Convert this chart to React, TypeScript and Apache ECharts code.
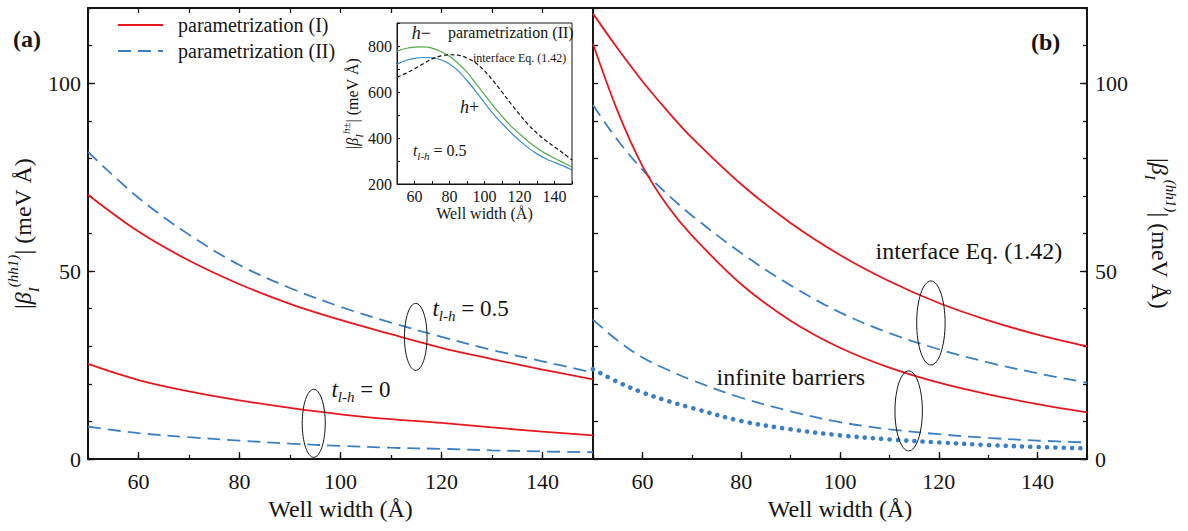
import React, { useEffect, useRef } from 'react';
import * as echarts from 'echarts';

const FONT = 'Liberation Serif, Times New Roman, serif';
const INK = '#151515';
const RED = '#e8161e';
const BLUE = '#3a7fc3';
const GREEN = '#55ad47';
const IBLUE = '#3d8dd2';

// ---------- Panel (a) ----------
const widthsA = [50, 60, 70, 80, 90, 100, 110, 120, 130, 140, 150];
const aParamI_t05 = [70.3, 60.5, 52.8, 46.5, 41.3, 37.0, 33.2, 29.6, 26.6, 23.8, 21.2];
const aParamII_t05 = [81.7, 69.5, 59.7, 51.6, 45.5, 40.5, 36.3, 32.5, 29.0, 26.0, 23.0];
const aParamI_t0 = [25.3, 21.0, 18.0, 15.6, 13.6, 11.9, 10.6, 9.6, 8.4, 7.3, 6.3];
const aParamII_t0 = [8.6, 6.9, 5.8, 4.9, 4.1, 3.5, 3.0, 2.7, 2.3, 2.0, 1.8];

// ---------- Panel (b) ----------
const widthsB = [50, 55, 60, 65, 70, 80, 90, 100, 110, 120, 130, 140, 150];
const bInterfaceI = [118.5, 109.2, 100.5, 92.7, 85.5, 73.1, 62.8, 54.3, 47.3, 41.5, 36.9, 33.1, 30.0];
const bInterfaceII = [94.2, 84.8, 77.0, 70.5, 64.8, 54.8, 46.2, 39.0, 33.5, 29.2, 25.7, 22.8, 20.3];
const bInfiniteI = [110.5, 92.5, 78.0, 67.5, 59.5, 46.5, 36.8, 29.6, 24.3, 20.3, 17.2, 14.6, 12.4];
const bInfiniteII = [37.1, 31.5, 27.0, 23.8, 21.0, 16.3, 12.7, 9.8, 7.9, 6.6, 5.6, 4.9, 4.4];
const bInfiniteDotted = [23.9, 20.5, 17.7, 15.5, 13.6, 10.1, 7.9, 6.3, 5.2, 4.4, 3.7, 3.2, 2.8];

// ---------- Inset ----------
const widthsInset = [50, 55, 60, 65, 70, 75, 80, 85, 90, 95, 100, 105, 110, 115, 120, 125, 130, 135, 140, 145, 150];
const insetHMinus = [778, 789, 795, 796, 791, 776, 755, 724, 686, 638, 589, 540, 495, 453, 418, 385, 357, 332, 312, 293, 274];
const insetHPlus = [720, 737, 746, 750, 749, 740, 722, 692, 650, 603, 553, 505, 463, 424, 389, 357, 331, 310, 294, 279, 261];
const insetInterface = [664, 681, 701, 723, 744, 757, 762, 760, 748, 726, 692, 648, 600, 550, 503, 458, 421, 389, 361, 334, 304];

// ---------- Ticks ----------
const xMajorTicks = [60, 80, 100, 120, 140];
const yMajorTicks = [0, 50, 100];

const pairs = (xs: number[], ys: number[]) => xs.map((x, i) => [x, ys[i]]);

const line = (name: string, xs: number[], ys: number[], xi: number, yi: number, color: string, width: number, type: any, extra: any = {}) => ({
  type: 'line',
  name,
  data: pairs(xs, ys),
  xAxisIndex: xi,
  yAxisIndex: yi,
  smooth: 0.35,
  symbol: 'none',
  showSymbol: false,
  silent: true,
  lineStyle: { color, width, type, ...(extra.lineStyle || {}) },
  itemStyle: { color },
  z: extra.z || 3,
});

const axisLineOn = { show: true, onZero: false, lineStyle: { color: INK, width: 1.8 } };
const axisLineOff = { show: false };
const tickStyle = { color: INK, width: 1.3 };
const labelStyle = { fontFamily: FONT, fontSize: 22, color: INK };

const nameRich = (big: number, small: number, lh: number) => ({
  m: { fontFamily: FONT, fontSize: big, color: INK, lineHeight: lh },
  b: { fontFamily: FONT, fontSize: big, fontStyle: 'italic', color: INK, lineHeight: lh },
  sub: { fontFamily: FONT, fontSize: small, fontStyle: 'italic', color: INK, lineHeight: Math.round(lh * 0.6), verticalAlign: 'bottom' },
  sup: { fontFamily: FONT, fontSize: small, fontStyle: 'italic', color: INK, lineHeight: Math.round(lh * 0.55), verticalAlign: 'top' },
});

const xMain = (grid: number, withName: boolean) => ({
  type: 'value', gridIndex: grid, position: 'bottom', min: 50, max: 150,
  splitLine: { show: false },
  axisLine: axisLineOn,
  axisTick: { show: true, inside: true, length: 7, customValues: xMajorTicks, lineStyle: tickStyle },
  axisLabel: { show: true, customValues: xMajorTicks, margin: 11, ...labelStyle },
  name: withName ? 'Well width (Å)' : '',
  nameLocation: 'middle', nameGap: 38,
  nameTextStyle: { fontFamily: FONT, fontSize: 24, color: INK },
});

const minorAxis = (grid: number, position: string, min: number, max: number, len: number) => ({
  type: 'value', gridIndex: grid, position, min, max, interval: 10,
  splitLine: { show: false },
  axisLine: position === 'top' ? axisLineOn : axisLineOff,
  axisTick: { show: true, inside: true, length: len, lineStyle: tickStyle },
  axisLabel: { show: false },
});

const yName = '{m||}{b|β}{sub|I}{sup|(hh1)}{m|| (meV Å)}';

const option: any = {
  animation: false,
  backgroundColor: '#fff',
  textStyle: { fontFamily: FONT },
  legend: {
    data: ['parametrization (I)', 'parametrization (II)'],
    orient: 'vertical', left: 112, top: 10,
    itemWidth: 45, itemHeight: 14, itemGap: 6,
    selectedMode: false,
    itemStyle: { color: 'rgba(0,0,0,0)', borderWidth: 0, opacity: 0 },
    textStyle: { fontFamily: FONT, fontSize: 20, color: INK, padding: [0, 0, 0, 10] },
  },
  grid: [
    { left: 88, top: 8, width: 505, height: 451, show: true, borderColor: INK, borderWidth: 1.8, containLabel: false, outerBoundsMode: 'none' },
    { left: 593, top: 8, width: 494, height: 451, show: true, borderColor: INK, borderWidth: 1.8, containLabel: false, outerBoundsMode: 'none' },
    { left: 397, top: 23, width: 175, height: 161, show: true, borderColor: INK, borderWidth: 1, backgroundColor: '#fff', containLabel: false, outerBoundsMode: 'none' },
  ],
  xAxis: [
    xMain(0, true),
    minorAxis(0, 'bottom', 50, 150, 4),
    minorAxis(0, 'top', 50, 150, 5),
    xMain(1, true),
    minorAxis(1, 'bottom', 50, 150, 4),
    {
      type: 'value', gridIndex: 2, position: 'bottom', min: 50, max: 150, interval: 10,
      splitLine: { show: false },
      axisLine: { show: true, onZero: false, lineStyle: { color: INK, width: 1 } },
      axisTick: { show: true, inside: true, length: 3, lineStyle: { color: INK, width: 1 } },
      axisLabel: { margin: 4, fontFamily: FONT, fontSize: 16, color: INK, formatter: (v: number) => (v % 20 === 0 && v > 50 && v < 150 ? String(v) : '') },
      name: 'Well width (Å)', nameLocation: 'middle', nameGap: 21,
      nameTextStyle: { fontFamily: FONT, fontSize: 16, color: INK },
    },
  ],
  yAxis: [
    {
      type: 'value', gridIndex: 0, position: 'left', min: 0, max: 120,
      splitLine: { show: false },
      axisLine: axisLineOn,
      axisTick: { show: true, inside: true, length: 7, customValues: yMajorTicks, lineStyle: tickStyle },
      axisLabel: { show: true, customValues: yMajorTicks, margin: 7, ...labelStyle },
      name: yName, nameLocation: 'middle', nameGap: 47, nameRotate: 90,
      nameTextStyle: { rich: nameRich(24, 15, 36) },
    },
    minorAxis(0, 'left', 0, 120, 4),
    {
      type: 'value', gridIndex: 1, position: 'right', min: 0, max: 120,
      splitLine: { show: false },
      axisLine: axisLineOn,
      axisTick: { show: true, inside: true, length: 7, customValues: yMajorTicks, lineStyle: tickStyle },
      axisLabel: { show: true, customValues: yMajorTicks, margin: 8, ...labelStyle },
      name: yName, nameLocation: 'middle', nameGap: 55, nameRotate: -90,
      nameTextStyle: { rich: nameRich(24, 15, 36) },
    },
    minorAxis(1, 'right', 0, 120, 4),
    minorAxis(1, 'left', 0, 120, 5),
    {
      type: 'value', gridIndex: 2, position: 'left', min: 200, max: 900, interval: 100,
      splitLine: { show: false },
      axisLine: { show: true, onZero: false, lineStyle: { color: INK, width: 1 } },
      axisTick: { show: true, inside: true, length: 3, lineStyle: { color: INK, width: 1 } },
      axisLabel: { margin: 5, fontFamily: FONT, fontSize: 16, color: INK, formatter: (v: number) => (v % 200 === 0 && v <= 800 ? String(v) : '') },
      name: '{m||}{b|β}{sub|I}{sup|h±}{m|| (meV Å)}', nameLocation: 'middle', nameGap: 29, nameRotate: 90,
      nameTextStyle: { rich: nameRich(16, 11, 24) },
    },
  ],
  series: [
    line('parametrization (I)', widthsA, aParamI_t05, 0, 0, RED, 1.8, 'solid'),
    line('parametrization (II)', widthsA, aParamII_t05, 0, 0, BLUE, 1.8, [13, 7]),
    line('parametrization (I)', widthsA, aParamI_t0, 0, 0, RED, 1.8, 'solid'),
    line('parametrization (II)', widthsA, aParamII_t0, 0, 0, BLUE, 1.8, [13, 7]),
    line('parametrization (I)', widthsB, bInterfaceI, 3, 2, RED, 1.8, 'solid'),
    line('parametrization (II)', widthsB, bInterfaceII, 3, 2, BLUE, 1.8, [13, 7]),
    line('parametrization (I)', widthsB, bInfiniteI, 3, 2, RED, 1.8, 'solid'),
    line('parametrization (II)', widthsB, bInfiniteII, 3, 2, BLUE, 1.8, [13, 7]),
    line('infinite barriers (dotted)', widthsB, bInfiniteDotted, 3, 2, BLUE, 4.6, [0.1, 8.2], { lineStyle: { cap: 'round' } }),
    line('h−', widthsInset, insetHMinus, 5, 5, GREEN, 1.2, 'solid', { z: 5 }),
    line('h+', widthsInset, insetHPlus, 5, 5, IBLUE, 1.2, 'solid', { z: 5 }),
    line('interface Eq. (1.42) inset', widthsInset, insetInterface, 5, 5, '#111', 1.2, [4, 2.5], { z: 5 }),
  ],
};

export default function App() {
  const ref = useRef<HTMLDivElement>(null);
  useEffect(() => {
    const chart = echarts.init(ref.current!, null, { renderer: 'svg' });
    chart.setOption(option);

    const px = (seriesIndex: number, x: number, y: number) => chart.convertToPixel({ seriesIndex }, [x, y]) as number[];
    const ellipse = (si: number, x: number, y: number, rx: number, ry: number) => {
      const p = px(si, x, y);
      return { type: 'ellipse', z: 100, silent: true, shape: { cx: p[0], cy: p[1], rx, ry }, style: { fill: 'none', stroke: INK, lineWidth: 1 } };
    };
    const text = (si: number, x: number, y: number, t: string, size: number, extra: any = {}) => {
      const p = px(si, x, y);
      return {
        type: 'text', z: 100, silent: true, x: p[0], y: p[1],
        style: { text: t, fontFamily: FONT, fontSize: size, fill: INK, align: 'left', verticalAlign: 'middle', ...extra },
      };
    };
    const tlh = (big: number, small: number, lh: number) => ({
      rich: {
        t: { fontFamily: FONT, fontSize: big, fontStyle: 'italic', fill: INK, lineHeight: lh },
        s: { fontFamily: FONT, fontSize: small, fontStyle: 'italic', fill: INK, lineHeight: Math.round(lh * 0.62), verticalAlign: 'bottom' },
        n: { fontFamily: FONT, fontSize: big, fill: INK, lineHeight: lh },
      },
    });
    const hStyle = (size: number) => ({
      rich: {
        i: { fontFamily: FONT, fontSize: size, fontStyle: 'italic', fill: INK },
        n: { fontFamily: FONT, fontSize: size, fill: INK },
      },
    });

    const elements: any[] = [
      ellipse(0, 114.9, 32.5, 11.3, 33.5),
      ellipse(0, 94.7, 9.5, 11.5, 34),
      ellipse(4, 118.4, 36.2, 14.2, 42),
      ellipse(4, 113.9, 12.8, 13.7, 40),
      text(0, 118.2, 40.1, '{t|t}{s|l-h}{n| = 0.5}', 23, tlh(23, 15, 30)),
      text(0, 98.2, 18.6, '{t|t}{s|l-h}{n| = 0}', 23, tlh(23, 15, 30)),
      text(4, 107.2, 55.3, 'interface Eq. (1.42)', 24),
      text(4, 75.0, 21.8, 'infinite barriers', 24),
      text(9, 58.4, 858, '{i|h}{n|−}', 18, hStyle(18)),
      text(9, 79.1, 858, 'parametrization (II)', 16),
      text(9, 93.4, 746, 'interface Eq. (1.42)', 12),
      text(9, 86.0, 533, '{i|h}{n|+}', 18, hStyle(18)),
      text(9, 59.1, 345, '{t|t}{s|l-h}{n| = 0.5}', 16, tlh(16, 11, 22)),
      { type: 'text', z: 100, silent: true, x: 13, y: 39, style: { text: '(a)', fontFamily: FONT, fontSize: 24, fontWeight: 'bold', fill: INK, align: 'left', verticalAlign: 'middle' } },
      { type: 'text', z: 100, silent: true, x: 1031, y: 42, style: { text: '(b)', fontFamily: FONT, fontSize: 24, fontWeight: 'bold', fill: INK, align: 'left', verticalAlign: 'middle' } },
    ];
    chart.setOption({ graphic: { elements } });
    return () => chart.dispose();
  }, []);
  return <div ref={ref} style={{ position: 'fixed', left: 0, top: 0, width: 1188, height: 531, background: '#fff' }} />;
}
